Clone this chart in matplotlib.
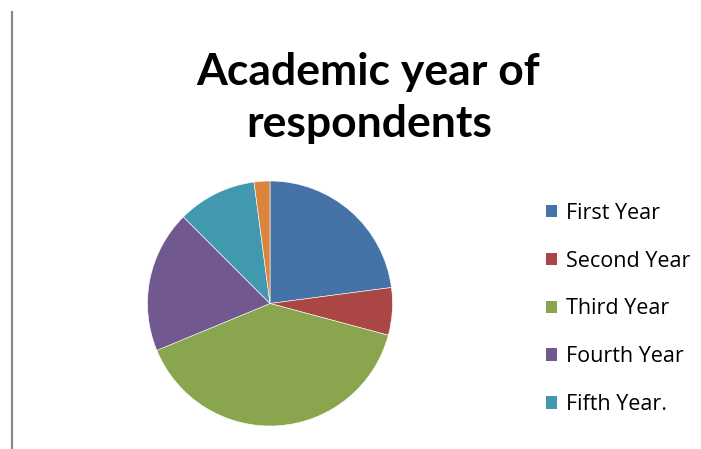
import matplotlib
matplotlib.use("Agg")
import matplotlib.pyplot as plt
from matplotlib.patches import Patch
from matplotlib.lines import Line2D

# academic year of respondents (counts)
labels = ["First Year", "Second Year", "Third Year", "Fourth Year", "Fifth Year.", ""]
counts = [11, 3, 19, 9, 5, 1]
colors = ["#4572A7", "#AA4643", "#89A54E", "#71588F", "#4198AF", "#DB843D"]

fig = plt.figure(figsize=(7.01, 4.49), dpi=100)
fig.patch.set_facecolor("white")

# left border line
fig.add_artist(Line2D([11.5 / 701, 11.5 / 701], [0, 1 - 12 / 449],
                      color="#898989", lw=1.6, transform=fig.transFigure))

# title, two lines
fig.text(368 / 701, 1 - 85 / 449, "Academic year of", ha="center", va="baseline",
         fontsize=32, fontweight="bold", family="Lato")
fig.text(369 / 701, 1 - 137 / 449, "respondents", ha="center", va="baseline",
         fontsize=32, fontweight="bold", family="Lato")

# pie
cx, cy, r = 270 / 701, 1 - 303.5 / 449, 122.5
ax = fig.add_axes([cx - r / 701, cy - r / 449, 2 * r / 701, 2 * r / 449])
ax.pie(counts, colors=colors, startangle=90, counterclock=False, radius=1,
       wedgeprops=dict(edgecolor="white", linewidth=0.4))
ax.set_xlim(-1, 1)
ax.set_ylim(-1, 1)
ax.set_aspect("auto")
ax.axis("off")

# legend (only five entries shown)
handles = [Patch(facecolor=c, edgecolor="none") for c in colors[:5]]
leg = fig.legend(handles, labels[:5], loc="upper left",
                 bbox_to_anchor=(537 / 701, 1 - 194 / 449), frameon=False,
                 prop=dict(family="Open Sans", size=15.5), handlelength=0.52,
                 handleheight=0.52, handletextpad=0.45, labelspacing=1.25,
                 borderaxespad=0)

fig.savefig("out.png", dpi=100)
